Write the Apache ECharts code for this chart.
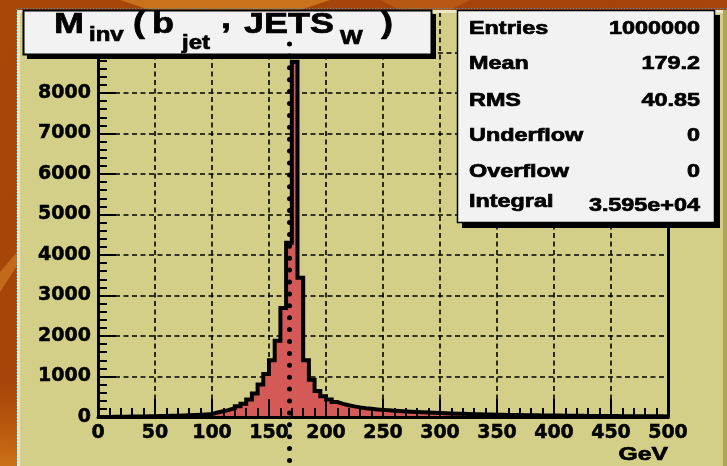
<!DOCTYPE html>
<html>
<head>
<meta charset="utf-8">
<script src="https://cdn.jsdelivr.net/npm/echarts@6/dist/echarts.min.js"></script>
<style>
  html, body { margin: 0; padding: 0; background: #a84808; }
  #chart { width: 727px; height: 466px; }
</style>
</head>
<body>
<div id="chart"></div>
<script>
// Invariant mass of b-jet + W jets, 5 GeV bins from 0 to 500 GeV
const binStart = 0;
const binWidth = 5;
const counts = [
  1, 3, 5, 7, 9, 11, 13, 15, 17, 20,
  23, 26, 29, 33, 37, 42, 48, 55, 63, 73,
  110, 140, 175, 215, 265, 330, 430, 580, 800, 1060,
  1400, 1880, 2690, 4300, 8770, 3440, 1400, 920, 640, 510,
  430, 370, 325, 290, 262, 238, 218, 202, 188, 176,
  165, 155, 146, 138, 130, 123, 116, 110, 104, 98,
  93, 88, 83, 79, 75, 71, 67, 64, 61, 58,
  55, 52, 50, 47, 45, 43, 41, 39, 37, 35,
  34, 32, 31, 30, 28, 27, 26, 25, 24, 23,
  22, 21, 20, 20, 19, 18, 17, 17, 16, 15
];
const xRange = [0, 500];
const xStep = 50;
const yRange = [0, 10000];
const yStep = 1000;
const xUnit = 'GeV';
const markerGeV = 168;

const statsLabels = ['Entries', 'Mean', 'RMS', 'Underflow', 'Overflow', 'Integral'];
const statsValues = ['1000000', '179.2', '40.85', '0', '0', '3.595e+04'];

// step outline points: lower edge of every bin, plus the closing upper edge
const histData = counts.map((c, i) => [binStart + i * binWidth, c]);
histData.push([binStart + counts.length * binWidth, counts[counts.length - 1]]);

const KHAKI = '#d3ce88';
const RED = '#d55a57';
const labelFont = {
  fontFamily: 'DejaVu Sans', fontWeight: 'bold', fontSize: 19, color: '#000',
  textBorderColor: '#000', textBorderWidth: 0.5
};
const HELV = '"Liberation Sans", Arial, sans-serif';

function txt(text, x, y, size, align, sx, z) {
  return {
    type: 'text', x: x, y: y, scaleX: sx, z: z || 102,
    style: {
      text: text, font: 'bold ' + size + 'px ' + HELV, fill: '#000',
      stroke: '#000', lineWidth: 0.7,
      align: align, verticalAlign: 'middle',
      textAlign: align, textVerticalAlign: 'middle'
    }
  };
}

const graphics = [
  // slide background streaks
  { type: 'polygon', z: -20, shape: { points: [[120, 0], [330, 0], [300, 10], [150, 10]] },
    style: { fill: 'rgba(214,128,34,0.75)' } },
  { type: 'polygon', z: -20, shape: { points: [[380, 0], [470, 0], [450, 10], [400, 10]] },
    style: { fill: 'rgba(200,110,30,0.5)' } },
  { type: 'polygon', z: -20, shape: { points: [[0, 272], [17, 252], [17, 266], [0, 292]] },
    style: { fill: 'rgba(214,128,40,0.6)' } },
  { type: 'rect', z: -20, shape: { x: 0, y: 380, width: 17, height: 86 },
    style: { fill: new echarts.graphic.LinearGradient(0, 0, 0, 1, [
      { offset: 0, color: 'rgba(196,100,16,0)' }, { offset: 1, color: 'rgba(206,118,24,0.9)' }]) } },
  // canvas
  { type: 'rect', z: -10, shape: { x: 17, y: 10, width: 710, height: 456 }, style: { fill: KHAKI } },
  { type: 'rect', z: 50, shape: { x: 17, y: 10, width: 706, height: 3 }, style: { fill: '#ebe6c4' } },
  { type: 'rect', z: 50, shape: { x: 17, y: 10, width: 3, height: 456 }, style: { fill: '#ebe6c4' } },
  { type: 'rect', z: 50, shape: { x: 723, y: 10, width: 4, height: 456 }, style: { fill: '#aea653' } },
  { type: 'polyline', z: 51, shape: { points: [[16.5, 466], [16.5, 8.5], [727, 8.5]] },
    style: { stroke: '#2c9ec8', lineWidth: 1, lineDash: [1, 2], fill: null } },

  // title box
  { type: 'rect', z: 100, shape: { x: 27, y: 14, width: 409, height: 45 }, style: { fill: '#000' } },
  { type: 'rect', z: 100, shape: { x: 23.5, y: 10.5, width: 408, height: 44 },
    style: { fill: '#f2f2f2', stroke: '#000', lineWidth: 2 } },
  txt('M', 54, 24.6, 30, 'left', 1.2),
  txt('inv', 89, 35.8, 20, 'left', 1.2),
  txt('(', 133, 24.6, 30, 'left', 1.2),
  txt('b', 152, 24.6, 30, 'left', 1.2),
  txt('jet', 182, 43, 20, 'left', 1.2),
  txt(',', 221, 19.6, 30, 'left', 1.2),
  txt('JETS', 244, 24.6, 30, 'left', 1.2),
  txt('W', 340, 38.8, 20, 'left', 1.2),
  txt(')', 381, 24.6, 30, 'left', 1.2),

  // statistics box
  { type: 'rect', z: 100, shape: { x: 462, y: 15, width: 258, height: 213 }, style: { fill: '#000' } },
  { type: 'rect', z: 100, shape: { x: 457.5, y: 10.5, width: 257, height: 212 },
    style: { fill: '#f2f2f2', stroke: '#000', lineWidth: 1.5 } },

  // axis unit
  txt(xUnit, 668, 455, 19, 'right', 1.3, 20)
];

const statsRowY = [28.7, 63.7, 100.3, 135.5, 172, 202];
const statsValY = [28.7, 63.7, 100.3, 135.5, 172, 205.5];
statsLabels.forEach((s, i) => graphics.push(txt(s, 469, statsRowY[i], 19, 'left', 1.23)));
statsValues.forEach((s, i) => graphics.push(txt(s, 700, statsValY[i], 19, 'right', 1.23)));

const gridLine = { show: true, lineStyle: { color: '#000', width: 1.6, type: [5, 3.5] } };
const plainNumber = v => String(v);

const option = {
  animation: false,
  backgroundColor: new echarts.graphic.LinearGradient(0, 0, 1, 1, [
    { offset: 0, color: '#a64808' }, { offset: 0.6, color: '#a4420a' }, { offset: 1, color: '#b0500c' }
  ]),
  grid: { left: 98, right: 59, top: 12, bottom: 49 },
  xAxis: [
    {
      type: 'value', min: xRange[0], max: xRange[1], interval: xStep, position: 'bottom', z: 10,
      axisLine: { show: true, onZero: false, lineStyle: { color: '#000', width: 3 } },
      axisTick: { show: true, inside: true, length: 18, lineStyle: { color: '#000', width: 2 } },
      minorTick: { show: true, splitNumber: 5, length: 9, lineStyle: { color: '#000', width: 2 } },
      axisLabel: Object.assign({ margin: 7, formatter: plainNumber }, labelFont),
      splitLine: { show: false }
    },
    {
      type: 'value', min: xRange[0], max: xRange[1], interval: xStep, position: 'bottom', z: 0,
      axisLine: { show: false }, axisTick: { show: false }, axisLabel: { show: false },
      splitLine: gridLine
    }
  ],
  yAxis: [
    {
      type: 'value', min: yRange[0], max: yRange[1], interval: yStep, position: 'left', z: 10,
      axisLine: { show: true, onZero: false, lineStyle: { color: '#000', width: 3 } },
      axisTick: { show: true, inside: true, length: 18, lineStyle: { color: '#000', width: 2 } },
      minorTick: { show: true, splitNumber: 5, length: 9, lineStyle: { color: '#000', width: 2 } },
      axisLabel: Object.assign({ margin: 7, showMaxLabel: false, formatter: plainNumber }, labelFont),
      splitLine: { show: false }
    },
    {
      type: 'value', min: yRange[0], max: yRange[1], interval: yStep, position: 'left', z: 0,
      axisLine: { show: false }, axisTick: { show: false }, axisLabel: { show: false },
      splitLine: gridLine
    },
    {
      type: 'value', min: yRange[0], max: yRange[1], interval: yStep, position: 'right', z: 10,
      axisLine: { show: true, onZero: false, lineStyle: { color: '#000', width: 3 } },
      axisTick: { show: false }, minorTick: { show: false }, axisLabel: { show: false },
      splitLine: { show: false }
    }
  ],
  series: [{
    type: 'line',
    xAxisIndex: 0, yAxisIndex: 0,
    step: 'end',
    data: histData,
    symbol: 'none', showSymbol: false,
    z: 5,
    lineStyle: { color: '#000', width: 4, join: 'miter' },
    areaStyle: { color: RED, opacity: 1, origin: 'start' }
  }],
  graphic: { elements: graphics }
};

const chart = echarts.init(document.getElementById('chart'), null, { renderer: 'canvas' });
chart.setOption(option);

// dotted reference line through the peak region, placed from the x scale
const markerX = chart.convertToPixel({ xAxisIndex: 0 }, markerGeV);
chart.setOption({
  graphic: {
    elements: [{
      id: 'marker', type: 'line', z: 101,
      shape: { x1: markerX, y1: 44, x2: markerX, y2: 470 },
      style: { stroke: '#000', lineWidth: 5, lineDash: [0, 11.9], lineCap: 'round' }
    }]
  }
});
</script>
</body>
</html>
